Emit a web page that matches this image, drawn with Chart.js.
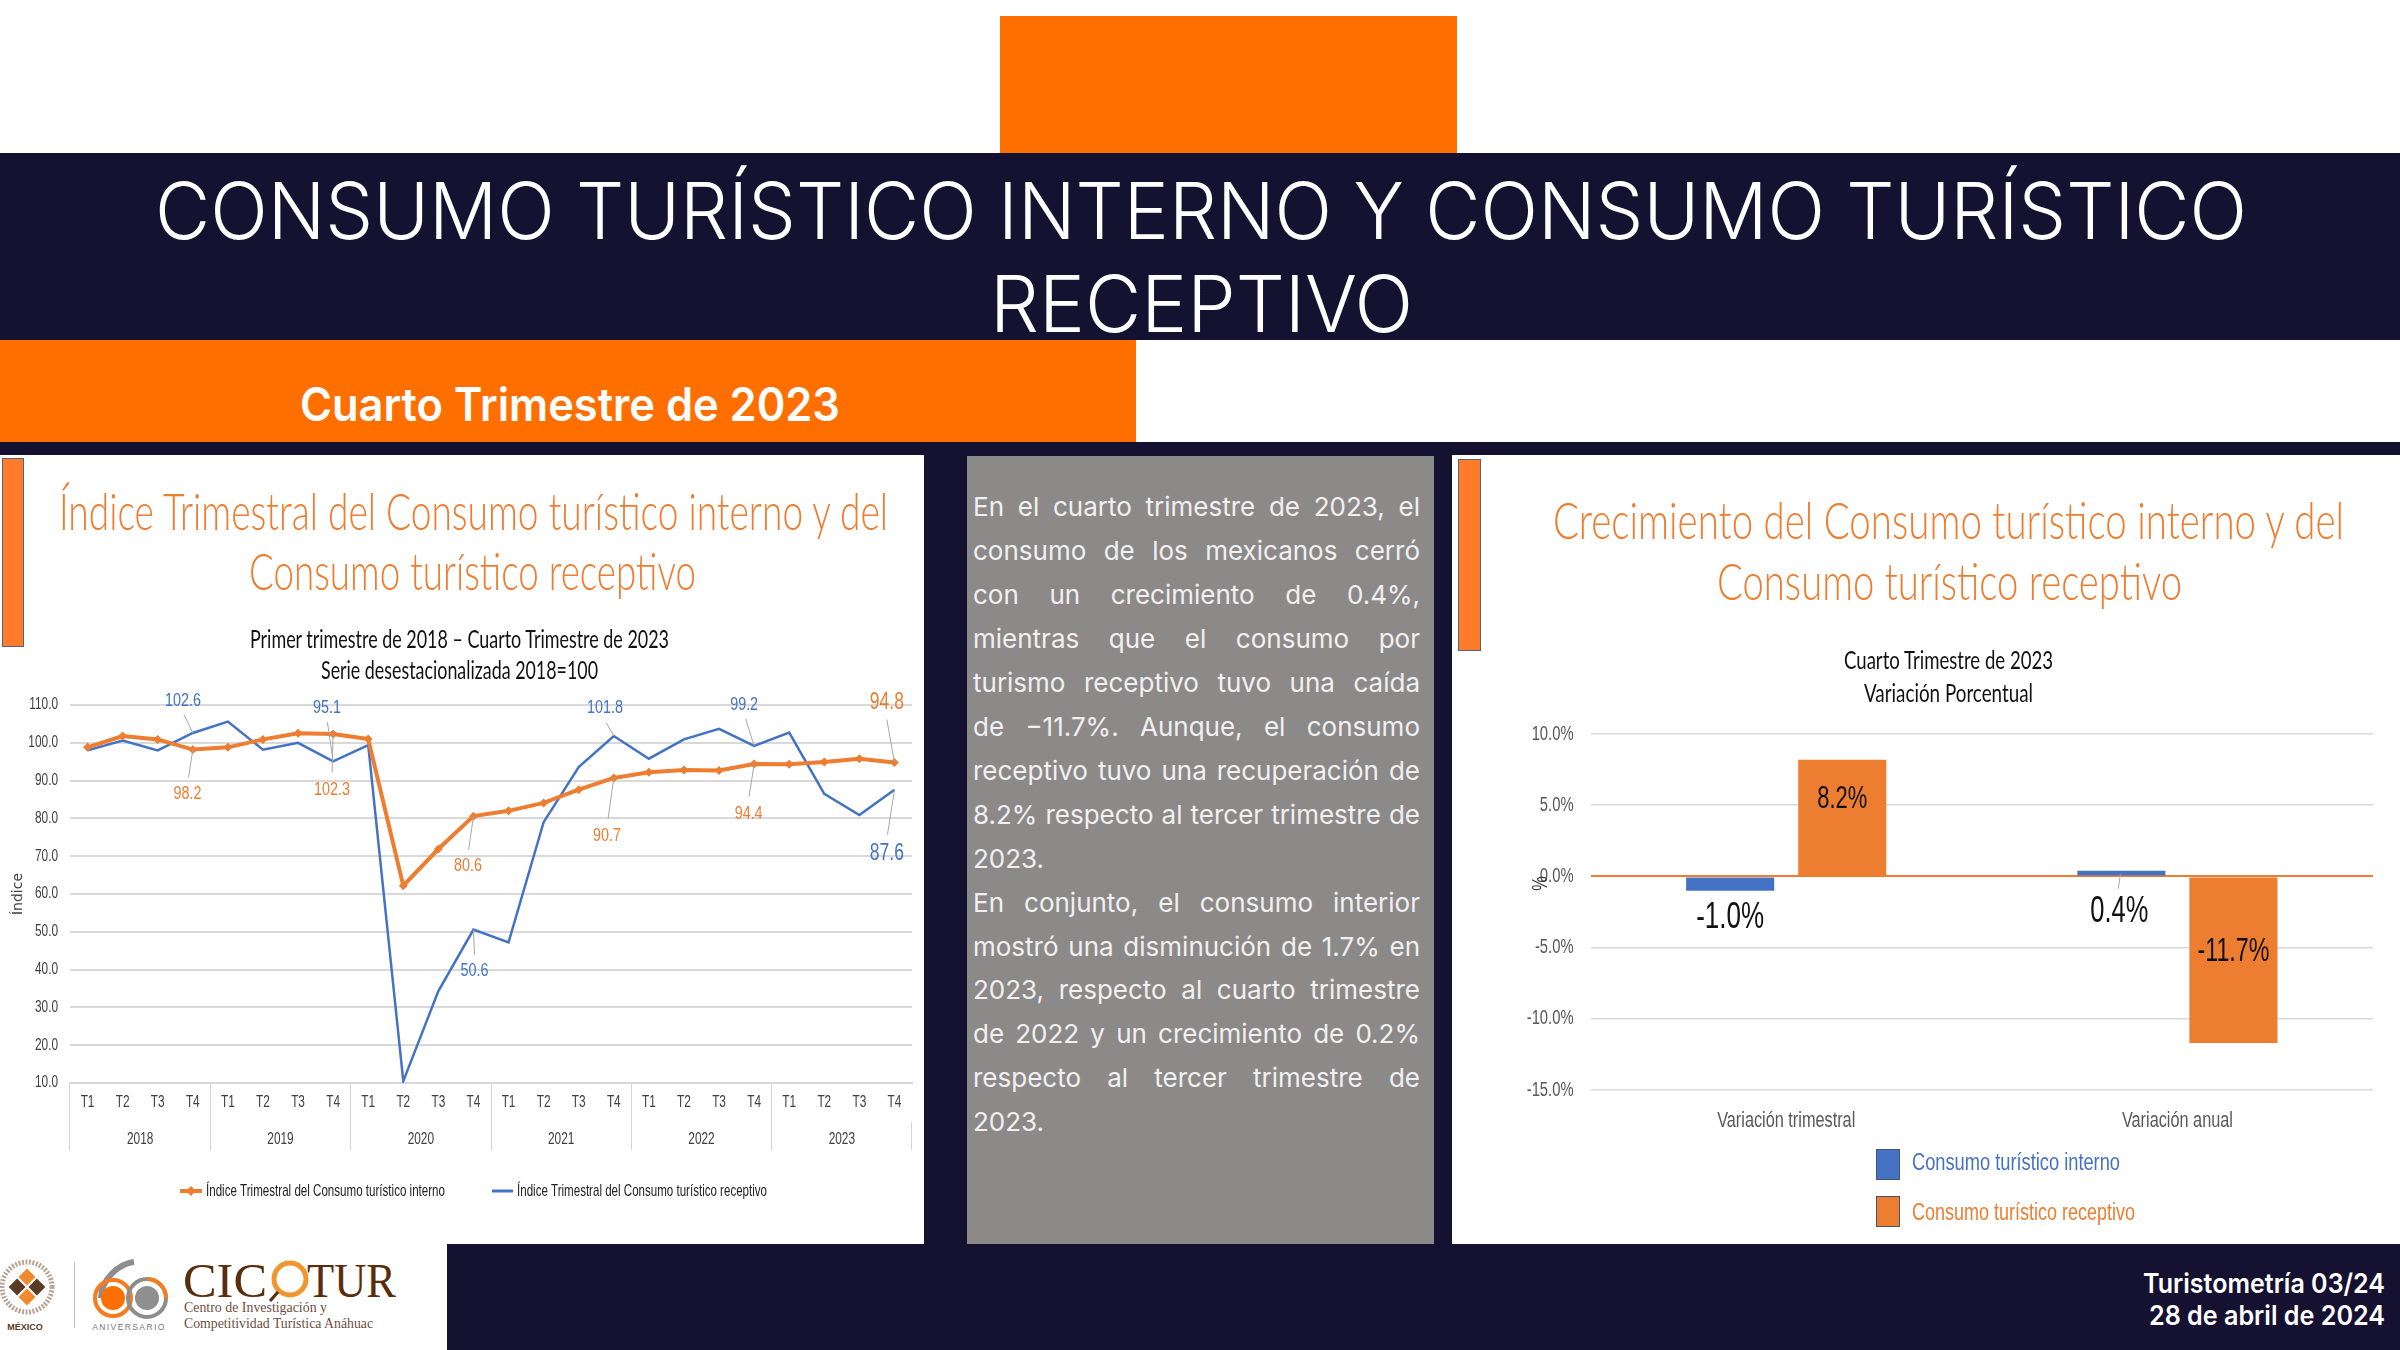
<!DOCTYPE html>
<html lang="es"><head><meta charset="utf-8"><title>Consumo turístico</title>
<script src="https://cdn.jsdelivr.net/npm/chart.js@4/dist/chart.umd.js"></script>
<style>
html,body{margin:0;padding:0;background:#fff}
#page{position:relative;width:2400px;height:1350px;overflow:hidden;background:#fff}
.box{position:absolute}
.t{position:absolute;white-space:nowrap;line-height:1;transform-origin:left center}
.para{position:absolute;left:973px;width:447px;height:44px;line-height:44px;font:400 26px/44px Inter,sans-serif;color:#f1f0f0;text-align:justify;text-align-last:justify;white-space:nowrap}
.para.last{text-align-last:left}
canvas{position:absolute}
</style></head><body><div id="page">
<div class="box" style="left:1000px;top:16px;width:457px;height:137px;background:#ff6f00"></div>
<div class="box" style="left:0;top:153px;width:2400px;height:187px;background:#151130"></div>
<div class="box" style="left:0;top:340px;width:1136px;height:102px;background:#ff6f00"></div>
<div class="box" style="left:0;top:442px;width:2400px;height:802px;background:#151130"></div>
<div class="box" style="left:447px;top:1244px;width:1953px;height:106px;background:#151130"></div>
<div class="box" style="left:0;top:455px;width:924px;height:789px;background:#fff"></div>
<div class="box" style="left:967px;top:456px;width:467px;height:788px;background:#8c8a89"></div>
<div class="box" style="left:1452px;top:455px;width:948px;height:789px;background:#fff"></div>
<canvas id="lineChart" width="924" height="789" style="left:0;top:455px;width:924px;height:789px"></canvas>
<canvas id="barChart" width="948" height="789" style="left:1452px;top:455px;width:948px;height:789px"></canvas>
<div class="box" style="left:2px;top:458px;width:20px;height:187px;background:#fe7c2b;border:1px solid #56607f"></div>
<div class="box" style="left:1458px;top:459px;width:21px;height:190px;background:#fe7c2b;border:1px solid #56607f"></div>
<svg class="box" style="left:0;top:1244px" width="447" height="106" viewBox="0 1244 447 106">
  <circle cx="27" cy="1287" r="25" fill="none" stroke="#b9a596" stroke-width="5" stroke-dasharray="2 1.5"/>
  <g transform="rotate(45 27 1287)"><rect x="14" y="1274" width="12" height="12" fill="#f08a2c"/><rect x="28" y="1288" width="12" height="12" fill="#f08a2c"/><rect x="28" y="1274" width="12" height="12" fill="#5a3a25"/><rect x="14" y="1288" width="12" height="12" fill="#5a3a25"/></g>
  <text x="25" y="1330" text-anchor="middle" font-family="Liberation Sans" font-weight="700" font-size="9" fill="#5a3a25">MÉXICO</text>
  <rect x="74" y="1262" width="1" height="66" fill="#bdbdbd"/>
  <path d="M101 1298 C101 1280 118 1264 134 1262" fill="none" stroke="#8d8d8d" stroke-width="6"/>
  <circle cx="113" cy="1298" r="18" fill="none" stroke="#f57c1f" stroke-width="4"/>
  <circle cx="113" cy="1298" r="12" fill="#ff6f00"/>
  <circle cx="147" cy="1298" r="19" fill="none" stroke="#8d8d8d" stroke-width="4"/>
  <path d="M147 1279 A19 19 0 0 1 166 1298" fill="none" stroke="#f57c1f" stroke-width="4"/>
  <circle cx="147" cy="1298" r="12" fill="#8f8f8f"/>
  <text x="129" y="1330" text-anchor="middle" font-family="Liberation Sans" font-size="8.5" letter-spacing="1.4" fill="#777">ANIVERSARIO</text>
  <text x="183" y="1297" font-family="Liberation Serif" font-size="48" textLength="84" lengthAdjust="spacingAndGlyphs" fill="#5a2d0c">CIC</text>
  <circle cx="290" cy="1279" r="16" fill="none" stroke="#f0962e" stroke-width="5"/>
  <path d="M278 1292 L270 1301" stroke="#5a2d0c" stroke-width="3"/>
  <text x="307" y="1297" font-family="Liberation Serif" font-size="48" textLength="89" lengthAdjust="spacingAndGlyphs" fill="#5a2d0c">TUR</text>
  <text x="184" y="1312" font-family="Liberation Serif" font-size="15" textLength="143" lengthAdjust="spacingAndGlyphs" fill="#6b5040">Centro de Investigación y</text>
  <text x="184" y="1328" font-family="Liberation Serif" font-size="15" textLength="189" lengthAdjust="spacingAndGlyphs" fill="#6b5040">Competitividad Turística Anáhuac</text>
</svg>
</div>
<script>
// ---------- data ----------
const quarters = ['T1','T2','T3','T4','T1','T2','T3','T4','T1','T2','T3','T4','T1','T2','T3','T4','T1','T2','T3','T4','T1','T2','T3','T4'];
const years = ['2018','2019','2020','2021','2022','2023'];
const seriesInterno = [98.8,101.8,100.9,98.2,98.8,100.9,102.5,102.3,101.0,62.2,71.9,80.6,82.0,84.1,87.6,90.7,92.2,92.8,92.7,94.4,94.3,94.9,95.8,94.8];
const seriesReceptivo = [98.0,100.6,98.0,102.6,105.6,98.2,100.0,95.1,99.4,10.5,34.3,50.6,47.2,79.0,93.6,101.8,95.8,100.9,103.7,99.2,102.7,86.5,80.9,87.6];
const lineNames = ['Índice Trimestral del Consumo turístico interno','Índice Trimestral del Consumo turístico receptivo'];
const barCategories = ['Variación trimestral','Variación anual'];
const barInterno = [-1.0,0.4];
const barReceptivo = [8.2,-11.7];
const barNames = ['Consumo turístico interno','Consumo turístico receptivo'];
const paragraph = [
 'En el cuarto trimestre de 2023, el','consumo de los mexicanos cerró','con un crecimiento de 0.4%,','mientras que el consumo por','turismo receptivo tuvo una caída','de −11.7%. Aunque, el consumo','receptivo tuvo una recuperación de','8.2% respecto al tercer trimestre de','2023.',
 'En conjunto, el consumo interior','mostró una disminución de 1.7% en','2023, respecto al cuarto trimestre','de 2022 y un crecimiento de 0.2%','respecto al tercer trimestre de','2023.'];

// ---------- style / placement ----------
const ORANGE='#ed7d31', BLUE='#4472c4', NARROW='"Liberation Sans",sans-serif';
const page=document.getElementById('page');
function T(s,l,r,cy,font,color){
  const e=document.createElement('div');e.className='t';e.textContent=s;e.style.font=font;e.style.lineHeight='1';e.style.color=color;
  e.style.left=l+'px';e.style.top=cy+'px';page.appendChild(e);
  const k=(r-l)/e.getBoundingClientRect().width;
  e.style.transform='translateY(-50%) scaleX('+k+')';
}
const HEAD='300 78px Inter,sans-serif', TIT='300 51px Lato,sans-serif', SUB='400 25px Lato,sans-serif';
T('CONSUMO TURÍSTICO INTERNO Y CONSUMO TURÍSTICO',155,2247,211,HEAD,'#fff');
T('RECEPTIVO',990,1413,304,HEAD,'#fff');
T('Cuarto Trimestre de 2023',300,840,404,'600 46px Inter,sans-serif','#fff');
T('Índice Trimestral del Consumo turístico interno y del',59,888,510,TIT,ORANGE);
T('Consumo turístico receptivo',249,696,570,TIT,ORANGE);
T('Primer trimestre de 2018 – Cuarto Trimestre de 2023',250,669,638,SUB,'#111');
T('Serie desestacionalizada 2018=100',321,598,669,SUB,'#111');
T('Crecimiento del Consumo turístico interno y del',1553,2344,519,TIT,ORANGE);
T('Consumo turístico receptivo',1717,2182,580,TIT,ORANGE);
T('Cuarto Trimestre de 2023',1844,2053,659,SUB,'#111');
T('Variación Porcentual',1864,2033,692,SUB,'#111');
T('Turistometría 03/24',2143,2385,1283,'600 27px Inter,sans-serif','#fff');
T('28 de abril de 2024',2149,2385,1315,'600 27px Inter,sans-serif','#fff');
paragraph.forEach((s,i)=>{
  const d=document.createElement('div');d.className='para'+((i===8||i===14)?' last':'');
  d.textContent=s;d.style.top=(485+i*43.95)+'px';page.appendChild(d);
});

// The reference's chart text is strongly condensed: squeeze Liberation Sans horizontally.
function condense(canvas,k){
  const c=canvas.getContext('2d'),orig=c.fillText;
  c.fillText=function(s,x,y,w){
    if(w===undefined&&c.font.indexOf('Liberation Sans')>=0)w=c.measureText(s).width*k;
    if(w===undefined)orig.call(c,s,x,y);else orig.call(c,s,x,y,w);
  };
}
function txt(c,s,x,y,font,color,w,align){
  c.save();c.font=font;c.fillStyle=color;c.textAlign=align||'center';c.textBaseline='middle';
  c.fillText(s,x,y,w);c.restore();
}
// Offsets of the callouts from their point: text (tx,ty), leader start (lx,ly)
const callouts=[
 {d:1,i:3,tx:-9.8,ty:-31.8,lx:-8.8,ly:-18.5,size:18,w:36},
 {d:1,i:7,tx:-6.1,ty:-53.1,lx:-5.7,ly:-39.1,size:18,w:28},
 {d:1,i:11,tx:1.1,ty:41.9,lx:1.1,ly:25.2,size:18,w:28},
 {d:1,i:15,tx:-8.7,ty:-27.8,lx:-7.7,ly:-13.5,size:18,w:36},
 {d:1,i:19,tx:-10,ty:-41,lx:-8.5,ly:-27,size:18,w:28},
 {d:1,i:23,tx:-7.6,ty:63.3,lx:-7,ly:45,size:24,w:34},
 {d:0,i:3,tx:-5.4,ty:44.9,lx:-4.2,ly:27.9,size:18,w:28},
 {d:0,i:7,tx:-1.1,ty:56.1,lx:-1.1,ly:38.4,size:18,w:36},
 {d:0,i:11,tx:-5.4,ty:49.8,lx:-4.8,ly:33.5,size:18,w:28},
 {d:0,i:15,tx:-6.7,ty:58.3,lx:-5.7,ly:40.6,size:18,w:28},
 {d:0,i:19,tx:-5.5,ty:49.6,lx:-5,ly:32.6,size:18,w:28},
 {d:0,i:23,tx:-7.6,ty:-59.9,lx:-7.6,ly:-42.9,size:24,w:34}
];
const linePlugin={id:'lineExtras',afterDatasetsDraw(ch){
  const c=ch.ctx;
  callouts.forEach(k=>{
    const pt=ch.getDatasetMeta(k.d).data[k.i],ds=ch.data.datasets[k.d];
    c.save();c.strokeStyle='#a6a6a6';c.lineWidth=1;c.beginPath();c.moveTo(pt.x+k.lx,pt.y+k.ly);c.lineTo(pt.x,pt.y);c.stroke();c.restore();
    txt(c,ds.data[k.i].toFixed(1),pt.x+k.tx,pt.y+k.ty,k.size+'px '+NARROW,ds.borderColor,k.w);
  });
  // legend
  const ly=1191-455, o=ch.data.datasets[0], b=ch.data.datasets[1];
  c.save();c.strokeStyle=o.borderColor;c.lineWidth=4;c.beginPath();c.moveTo(180,ly);c.lineTo(202,ly);c.stroke();
  c.fillStyle=o.borderColor;c.translate(191,ly);c.rotate(Math.PI/4);c.fillRect(-3.5,-3.5,7,7);c.restore();
  c.save();c.strokeStyle=b.borderColor;c.lineWidth=3;c.beginPath();c.moveTo(492,ly);c.lineTo(513,ly);c.stroke();c.restore();
  txt(c,o.label,206,ly,'17px '+NARROW,'#222',239,'left');
  txt(c,b.label,517,ly,'17px '+NARROW,'#222',250,'left');
}};
const lineCanvas=document.getElementById('lineChart');
condense(lineCanvas,0.74);
new Chart(lineCanvas,{
  type:'line',
  data:{labels:quarters,datasets:[
    {label:lineNames[0],data:seriesInterno,borderColor:ORANGE,backgroundColor:ORANGE,borderWidth:4,pointStyle:'rectRot',pointRadius:4.5,pointBackgroundColor:ORANGE,pointBorderColor:ORANGE,pointBorderWidth:0,tension:0,xAxisID:'x',yAxisID:'y'},
    {label:lineNames[1],data:seriesReceptivo,borderColor:BLUE,backgroundColor:BLUE,borderWidth:2.5,pointRadius:0,tension:0,xAxisID:'x',yAxisID:'y'}
  ]},
  plugins:[linePlugin],
  options:{responsive:false,animation:false,devicePixelRatio:1,
    layout:{padding:{top:250,bottom:94,left:0,right:12}},
    plugins:{legend:{display:false},title:{display:false},tooltip:{enabled:false}},
    scales:{
      x:{type:'category',weight:0,offset:true,
        afterFit(s){s.height=39},
        border:{color:'#d9d9d9',width:2},
        grid:{offset:true,drawOnChartArea:false,drawTicks:true,tickLength:39,
          tickColor:c=>c.index%4===0?'#d4d4d4':'rgba(0,0,0,0)',color:c=>c.index%4===0?'#d4d4d4':'rgba(0,0,0,0)',tickWidth:1},
        ticks:{autoSkip:false,maxRotation:0,minRotation:0,padding:-29,color:'#404040',font:{family:NARROW,size:16}}},
      xYear:{type:'category',labels:years,position:'bottom',weight:1,offset:true,
        afterFit(s){s.height=28},
        border:{display:false},
        grid:{offset:true,drawOnChartArea:false,tickLength:28,color:'#d4d4d4',tickColor:'#d4d4d4'},
        ticks:{autoSkip:false,maxRotation:0,minRotation:0,padding:-20,color:'#404040',font:{family:NARROW,size:16}}},
      y:{type:'linear',min:10,max:110,
        afterFit(s){s.width=70},
        border:{display:false},
        grid:{color:'#d9d9d9',lineWidth:2,drawTicks:false},
        title:{display:true,text:'Índice',color:'#404040',font:{family:'"DejaVu Sans",sans-serif',size:14},padding:{top:10,bottom:0}},
        ticks:{stepSize:10,padding:12,color:'#404040',font:{family:NARROW,size:16},callback:v=>v.toFixed(1)}}
    }
  }
});

// Offsets of the bar labels from the end of their bar
const barLabels=[
 {d:0,i:0,dx:0,dy:27,size:37,w:68},
 {d:1,i:0,dx:0,dy:40,size:31,w:50},
 {d:0,i:1,dx:-2,dy:41,size:37,w:58},
 {d:1,i:1,dx:0,dy:-91,size:33,w:72}
];
const barPlugin={id:'barExtras',afterDatasetsDraw(ch){
  const c=ch.ctx;
  barLabels.forEach(k=>{
    const el=ch.getDatasetMeta(k.d).data[k.i],v=ch.data.datasets[k.d].data[k.i];
    txt(c,v.toFixed(1)+'%',el.x+k.dx,el.y+k.dy,k.size+'px '+NARROW,'#111',k.w);
  });
  c.save();c.strokeStyle='#a6a6a6';c.lineWidth=1;
  const e=ch.getDatasetMeta(0).data[1];c.beginPath();c.moveTo(e.x-1,e.y+3);c.lineTo(e.x-3,e.y+18);c.stroke();c.restore();
  // "%" axis note at the zero tick
  const y0=ch.scales.y.getPixelForValue(0);
  c.save();c.translate(89,y0+7);c.rotate(-Math.PI/2);txt(c,'%',0,0,'22px '+NARROW,'#333');c.restore();
  // legend
  [[1149-455,0,15],[1196-455,1,18]].forEach(([ty,i,off])=>{
    const ds=ch.data.datasets[i];
    c.fillStyle=ds.backgroundColor;c.fillRect(424,ty,24,31);
    c.strokeStyle='#44546a';c.lineWidth=1;c.strokeRect(424.5,ty+.5,23,30);
    txt(c,ds.label,460,ty+off,'23px '+NARROW,ds.backgroundColor,i?223:208,'left');
  });
}};
const barCanvas=document.getElementById('barChart');
condense(barCanvas,0.74);
new Chart(barCanvas,{
  type:'bar',
  data:{labels:barCategories,datasets:[
    {label:barNames[0],data:barInterno,backgroundColor:BLUE,categoryPercentage:0.573,barPercentage:0.786},
    {label:barNames[1],data:barReceptivo,backgroundColor:ORANGE,categoryPercentage:0.573,barPercentage:0.786}
  ]},
  plugins:[barPlugin],
  options:{responsive:false,animation:false,devicePixelRatio:1,
    layout:{padding:{top:279,bottom:114,left:0,right:27}},
    plugins:{legend:{display:false},title:{display:false},tooltip:{enabled:false}},
    scales:{
      x:{afterFit(s){s.height=40},border:{display:false},grid:{display:false,drawTicks:false},
        ticks:{padding:18,maxRotation:0,autoSkip:false,color:'#595959',font:{family:NARROW,size:22}}},
      y:{min:-15,max:10,afterFit(s){s.width=138.6},border:{display:false},
        grid:{drawTicks:false,color:c=>c.tick.value===0?ORANGE:'#d9d9d9',lineWidth:c=>c.tick.value===0?2:1.5},
        ticks:{stepSize:5,padding:17,color:'#595959',font:{family:NARROW,size:20},callback:v=>v.toFixed(1)+'%'}}
    }
  }
});
</script></body></html>
